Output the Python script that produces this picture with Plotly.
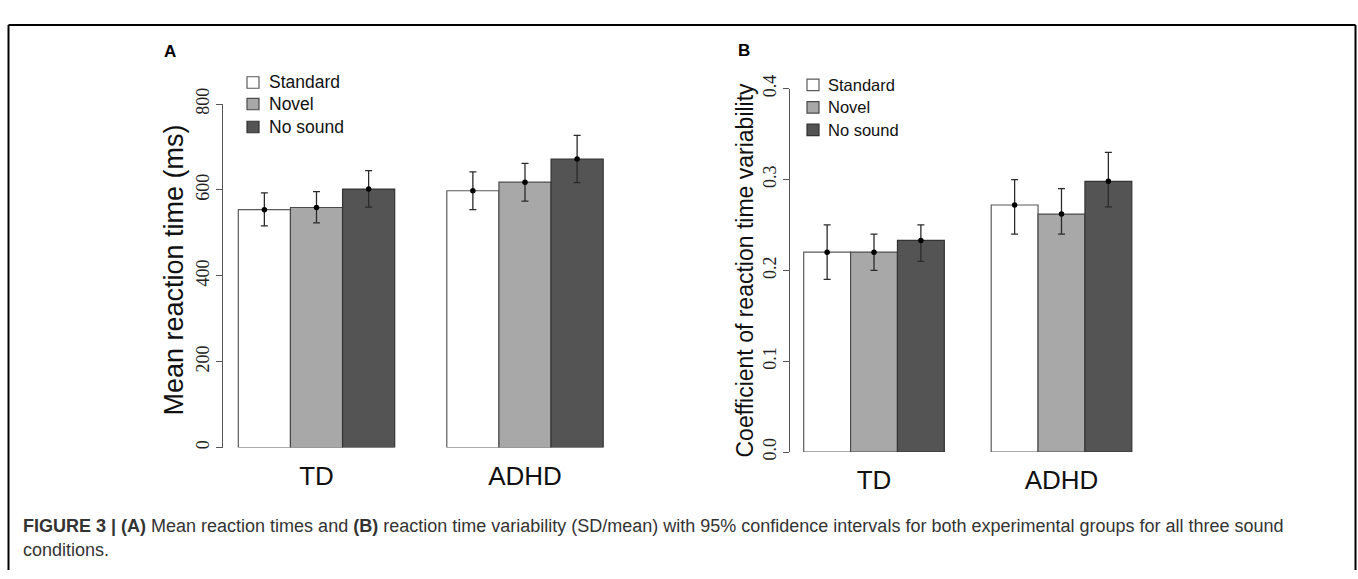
import plotly.graph_objects as go

# ---------------- data ----------------
groups = ["TD", "ADHD"]
conditions = ["Standard", "Novel", "No sound"]

# Panel A: mean reaction time (ms), per condition -> per group
rt_mean = [[554, 598], [559, 618], [602, 672]]
rt_ci_low = [[516, 554], [523, 574], [560, 617]]
rt_ci_high = [[593, 642], [596, 662], [645, 727]]

# Panel B: coefficient of reaction time variability
cv_mean = [[0.220, 0.272], [0.220, 0.262], [0.233, 0.298]]
cv_ci_low = [[0.190, 0.240], [0.200, 0.240], [0.210, 0.270]]
cv_ci_high = [[0.250, 0.300], [0.240, 0.290], [0.250, 0.330]]

rt_ticks = [0, 200, 400, 600, 800]
cv_ticks = [0.0, 0.1, 0.2, 0.3, 0.4]

# ---------------- styles ----------------
W, H = 1358, 579
fill_colors = ["#FFFFFF", "#A8A8A8", "#545454"]
edge_colors = ["#5a5a5a", "#4a4a4a", "#333333"]
BAR_W = 0.25
SANS = "Liberation Sans, Arial, sans-serif"
SERIF = "Liberation Serif, Times New Roman, serif"


def px_x(p):
    return p / W


def px_y(p):
    return 1 - p / H


fig = go.Figure()

panels = [
    dict(xa="x", ya="y", mean=rt_mean, lo=rt_ci_low, hi=rt_ci_high),
    dict(xa="x2", ya="y2", mean=cv_mean, lo=cv_ci_low, hi=cv_ci_high),
]

for pan in panels:
    for s, cond in enumerate(conditions):
        xs = [g + (s - 1) * BAR_W for g in range(len(groups))]
        m = pan["mean"][s]
        up = [h - v for h, v in zip(pan["hi"][s], m)]
        dn = [v - l for v, l in zip(m, pan["lo"][s])]
        fig.add_trace(go.Bar(
            x=xs, y=m, width=BAR_W, name=cond, xaxis=pan["xa"], yaxis=pan["ya"],
            marker=dict(color=fill_colors[s], line=dict(color=edge_colors[s], width=1.2)),
            error_y=dict(type="data", symmetric=False, array=up, arrayminus=dn,
                         color="#2a2a2a", thickness=1.3, width=3.5),
            showlegend=False, hoverinfo="skip",
        ))
        fig.add_trace(go.Scatter(
            x=xs, y=m, mode="markers", xaxis=pan["xa"], yaxis=pan["ya"],
            marker=dict(color="black", size=5.5), showlegend=False, hoverinfo="skip",
        ))

xrange = [-0.447, 1.447]
common_x = dict(range=xrange, showgrid=False, zeroline=False, showline=False,
                ticks="", tickvals=list(range(len(groups))), ticktext=groups,
                tickfont=dict(family=SANS, size=26, color="#111"),
                ticklabelstandoff=10, fixedrange=True)
common_y = dict(showgrid=False, zeroline=False, showline=True, linecolor="#555",
                linewidth=1, ticks="outside", ticklen=6, tickcolor="#555",
                tickangle=-90, tickfont=dict(family=SERIF, size=18, color="#222"),
                fixedrange=True)

fig.update_layout(
    width=W, height=H, margin=dict(l=0, r=0, t=0, b=0),
    paper_bgcolor="white", plot_bgcolor="white", barmode="overlay",
    xaxis=dict(domain=[px_x(223.3), px_x(618.2)], anchor="y", **common_x),
    yaxis=dict(domain=[px_y(451), px_y(92)], anchor="x", range=[0, 800],
               tickvals=rt_ticks, **common_y),
    xaxis2=dict(domain=[px_x(790.2), px_x(1145.3)], anchor="y2", **common_x),
    yaxis2=dict(domain=[px_y(455.7), px_y(76)], anchor="x2", range=[0, 0.4],
                tickvals=cv_ticks, tickformat=".1f", **common_y),
)

annotations = []
shapes = []

# y-axis titles
annotations.append(dict(text="Mean reaction time (ms)", x=px_x(174), y=px_y(265),
                        xref="paper", yref="paper", showarrow=False, textangle=-90,
                        xanchor="center", yanchor="middle",
                        font=dict(family=SANS, size=27, color="#111")))
annotations.append(dict(text="Coefficient of reaction time variability", x=px_x(745),
                        y=px_y(266), xref="paper", yref="paper", showarrow=False,
                        textangle=-90, xanchor="center", yanchor="middle",
                        font=dict(family=SANS, size=23, color="#111")))

# panel letters
for letter, (lx, ly) in (("A", (170, 37)), ("B", (744, 36))):
    annotations.append(dict(text="<b>%s</b>" % letter, x=px_x(lx), y=px_y(ly),
                            xref="paper", yref="paper", showarrow=False,
                            xanchor="center", yanchor="middle",
                            font=dict(family=SANS, size=17, color="#000")))

# legends (manual, like base-R legend)
legend_specs = [
    dict(box_x=247, text_x=267, rows=[69.5, 92, 116], size=17.5),
    dict(box_x=807, text_x=826, rows=[72, 95.5, 119], size=16.5),
]
for spec in legend_specs:
    for s, cond in enumerate(conditions):
        cy = spec["rows"][s]
        shapes.append(dict(type="rect", xref="paper", yref="paper",
                           x0=px_x(spec["box_x"]), x1=px_x(spec["box_x"] + 12),
                           y0=px_y(cy + 6), y1=px_y(cy - 6),
                           fillcolor=fill_colors[s], line=dict(color=edge_colors[s], width=1.2)))
        annotations.append(dict(text=cond, x=px_x(spec["text_x"]), y=px_y(cy),
                                xref="paper", yref="paper", showarrow=False,
                                xanchor="left", yanchor="middle",
                                font=dict(family=SANS, size=spec["size"], color="#111")))

# caption
cap1 = ("<b>FIGURE 3 | (A)</b> Mean reaction times and <b>(B)</b> reaction time variability "
        "(SD/mean) with 95% confidence intervals for both experimental groups for all three sound")
cap2 = "conditions."
for txt, cy in ((cap1, 533), (cap2, 558)):
    annotations.append(dict(text=txt, x=px_x(21), y=px_y(cy), xref="paper", yref="paper",
                            showarrow=False, xanchor="left", yanchor="middle",
                            font=dict(family=SANS, size=18, color="#333")))

# outer frame (top, left, right edges; bottom continues past the picture)
frame = dict(color="black", width=2)
fx0, fx1, fy = px_x(8.5), px_x(1355.5), px_y(9.3)
for x0, y0, x1, y1 in ((fx0, fy, fx1, fy), (fx0, 0, fx0, fy), (fx1, 0, fx1, fy)):
    shapes.append(dict(type="line", xref="paper", yref="paper", x0=x0, y0=y0, x1=x1, y1=y1,
                       line=frame, layer="above"))

fig.update_layout(annotations=annotations, shapes=shapes)

fig.write_html("out.html", config={"displayModeBar": False},
               post_script="document.body.style.margin='0';document.body.style.overflow='hidden';")
